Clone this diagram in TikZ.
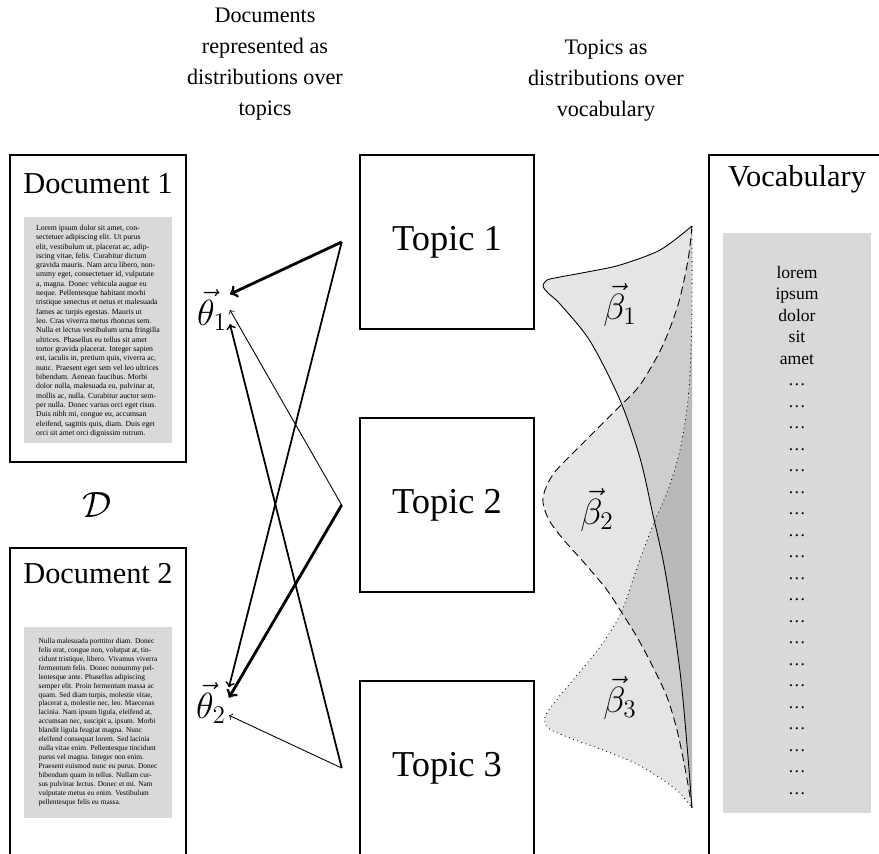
\documentclass[tikz,border=0pt]{standalone}
\usepackage[no-math]{fontspec}
\setmainfont{Liberation Serif}
\begin{document}
\begin{tikzpicture}[x=0.5688pt, y=-0.5688pt,
  frame/.style={draw, line width=1.6pt, inner sep=0pt, minimum width=100.1pt},
  topicbox/.style={draw, line width=1.4pt, minimum width=99pt, minimum height=99pt,
    inner sep=0pt, font=\fontsize{20.74}{25}\selectfont},
  textpanel/.style={fill=black!15, inner sep=0pt, minimum width=84.2pt},
  heading/.style={font=\fontsize{17.28}{22}\selectfont, anchor=base},
  caption/.style={align=center, font=\fontsize{12.6}{17.6}\selectfont},
  weight/.style={font=\huge, inner sep=1.5pt},
  strong/.style={->, line width=1.6pt},
  medium/.style={->, line width=1pt},
  weak/.style={->, line width=0.5pt},
  density/.style={line width=0.5pt, fill=black, fill opacity=0.1}
]
\useasboundingbox (0,0) rectangle (879,853);
\clip (0,0) rectangle (879,853);

% column captions
\node[caption] (hdocs) at (265,64.5) {Documents\\represented as\\distributions over\\topics};
\node[caption] (htopics) at (606,80.5) {Topics as\\distributions over\\vocabulary};

% document 1
\node[textpanel, minimum height=128.5pt] (panel1) at (98,330) {};
\node[frame, minimum height=174.6pt] (doc1) at (98,308.5) {};
\node[heading] (doc1title) at (98,193) {Document 1};
\node[inner sep=0pt] (text1) at (98,331) {\fontsize{4.4}{5.3}\selectfont\vbox{%
\hbox{Lorem ipsum dolor sit amet, con-}
\hbox{sectetuer adipiscing elit. Ut purus}
\hbox{elit, vestibulum ut, placerat ac, adip-}
\hbox{iscing vitae, felis. Curabitur dictum}
\hbox{gravida mauris. Nam arcu libero, non-}
\hbox{ummy eget, consectetuer id, vulputate}
\hbox{a, magna. Donec vehicula augue eu}
\hbox{neque. Pellentesque habitant morbi}
\hbox{tristique senectus et netus et malesuada}
\hbox{fames ac turpis egestas. Mauris ut}
\hbox{leo. Cras viverra metus rhoncus sem.}
\hbox{Nulla et lectus vestibulum urna fringilla}
\hbox{ultrices. Phasellus eu tellus sit amet}
\hbox{tortor gravida placerat. Integer sapien}
\hbox{est, iaculis in, pretium quis, viverra ac,}
\hbox{nunc. Praesent eget sem vel leo ultrices}
\hbox{bibendum. Aenean faucibus. Morbi}
\hbox{dolor nulla, malesuada eu, pulvinar at,}
\hbox{mollis ac, nulla. Curabitur auctor sem-}
\hbox{per nulla. Donec varius orci eget risus.}
\hbox{Duis nibh mi, congue eu, accumsan}
\hbox{eleifend, sagittis quis, diam. Duis eget}
\hbox{orci sit amet orci dignissim rutrum.}}};

% document 2
\node[textpanel, minimum height=108.6pt] (panel2) at (98,722.5) {};
\node[frame, minimum height=174.6pt] (doc2) at (98,701.5) {};
\node[heading] (doc2title) at (98,583) {Document 2};
\node[inner sep=0pt] (text2) at (98,722) {\fontsize{4.2}{5.07}\selectfont\vbox{%
\hbox{Nulla malesuada porttitor diam. Donec}
\hbox{felis erat, congue non, volutpat at, tin-}
\hbox{cidunt tristique, libero. Vivamus viverra}
\hbox{fermentum felis. Donec nonummy pel-}
\hbox{lentesque ante. Phasellus adipiscing}
\hbox{semper elit. Proin fermentum massa ac}
\hbox{quam. Sed diam turpis, molestie vitae,}
\hbox{placerat a, molestie nec, leo. Maecenas}
\hbox{lacinia. Nam ipsum ligula, eleifend at,}
\hbox{accumsan nec, suscipit a, ipsum. Morbi}
\hbox{blandit ligula feugiat magna. Nunc}
\hbox{eleifend consequat lorem. Sed lacinia}
\hbox{nulla vitae enim. Pellentesque tincidunt}
\hbox{purus vel magna. Integer non enim.}
\hbox{Praesent euismod nunc eu purus. Donec}
\hbox{bibendum quam in tellus. Nullam cur-}
\hbox{sus pulvinar lectus. Donec et mi. Nam}
\hbox{vulputate metus eu enim. Vestibulum}
\hbox{pellentesque felis eu massa.}}};

\node[weight] (corpus) at (97,505) {$\mathcal{D}$};

% vocabulary
\node[textpanel, minimum height=329.9pt] (panel3) at (797,523) {};
\node[frame, minimum height=398.2pt] (vocab) at (797,505) {};
\node[heading] (vocabtitle) at (797,186) {Vocabulary};
\foreach \w [count=\i from 0] in {lorem,ipsum,dolor,sit,amet}
  \node[anchor=base, inner sep=0pt] (word\i) at (797,{278+21.5*\i}) {\w};
\foreach \i in {5,...,24}
  \node[anchor=base, inner sep=0pt] (word\i) at (797,{278+21.5*\i}) {\dots};

% topics
\node[topicbox] (topic1) at (447,242) {Topic 1};
\node[topicbox] (topic2) at (447,505) {Topic 2};
\node[topicbox] (topic3) at (447,768) {Topic 3};
\coordinate (tail1) at ([xshift=-9.7pt]topic1.west);
\coordinate (tail2) at ([xshift=-9.7pt]topic2.west);
\coordinate (tail3) at ([xshift=-9.7pt]topic3.west);

% topic proportions of each document
\node[weight] (theta1) at (212,310) {$\vec{\theta}_1$};
\node[weight] (theta2) at (211,703) {$\vec{\theta}_2$};
\draw[strong] (tail1) -- ([yshift=9pt]theta1.east);
\draw[weak]   (tail2) -- (theta1.east);
\draw[medium] (tail3) -- ([yshift=-8pt]theta1.east);
\draw[medium] (tail1) -- ([yshift=9pt]theta2.east);
\draw[strong] (tail2) -- ([yshift=3pt]theta2.east);
\draw[weak]   (tail3) -- ([yshift=-7pt]theta2.east);

% word distributions of the topics
\draw[density] plot[smooth] coordinates {(692,226) (660,250) (620,265) (587,272)
  (560,277) (547,280) (543,286) (548,293) (560,304) (590,341) (620,400) (640,458)
  (653,515) (664,565) (673,620) (681,680) (687,745) (692,808)};
\draw[density, dash pattern=on 4.5pt off 2.5pt] plot[smooth] coordinates {(692,226)
  (688,260) (678,305) (662,347) (640,385) (620,406) (598,428) (573,453) (554,473)
  (545,490) (543,503) (549,520) (563,539) (587,566) (607,590) (622,613) (637,637)
  (653,667) (667,697) (677,730) (685,768) (692,808)};
\draw[density, dotted] plot[smooth] coordinates {(692,226) (692,300) (691,350)
  (688,400) (680,450) (668,490) (653,525) (638,565) (621,613) (600,647) (573,680)
  (554,703) (545,717) (548,728) (570,738) (603,750) (637,764) (663,780) (680,793)
  (692,808)};
\node[weight] (beta1) at (620,305) {$\vec{\beta}_1$};
\node[weight] (beta2) at (597,510) {$\vec{\beta}_2$};
\node[weight] (beta3) at (620,698) {$\vec{\beta}_3$};
\end{tikzpicture}
\end{document}
